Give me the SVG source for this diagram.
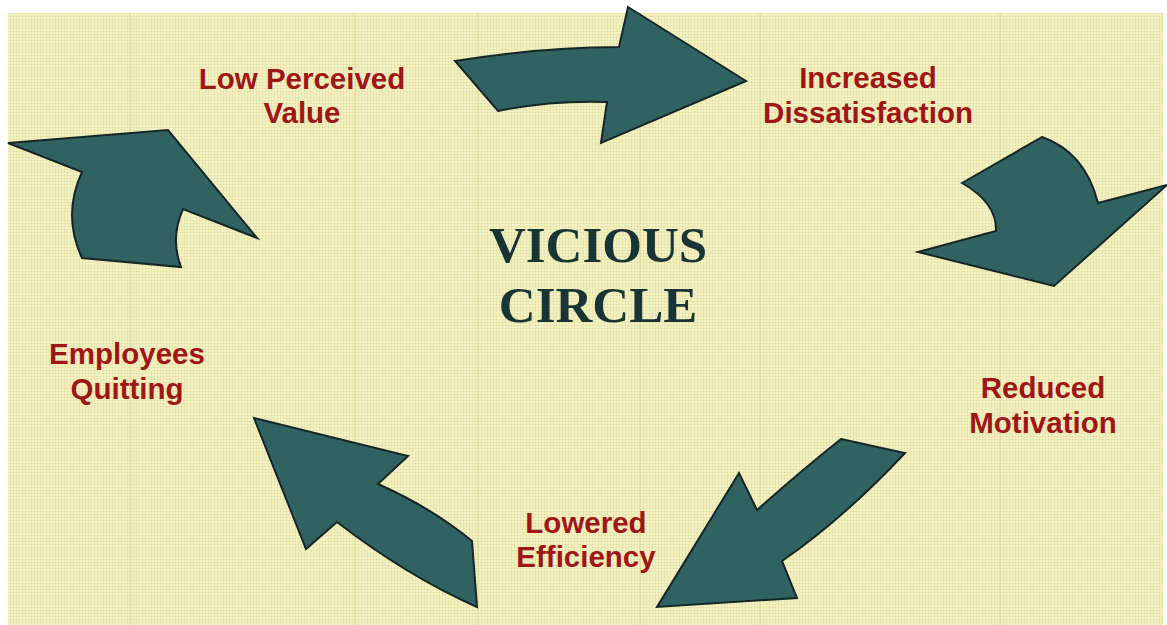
<svg xmlns="http://www.w3.org/2000/svg" width="1167" height="625" viewBox="0 0 1167 625">
<defs>
<pattern id="dots" width="3" height="3" patternUnits="userSpaceOnUse">
<rect width="3" height="3" fill="#f8f6d4"/>
<rect x="0.5" y="0.5" width="2" height="2" fill="#e2de98"/>
</pattern>
<style>
.arrow{fill:#316262;stroke:#152626;stroke-width:2;stroke-linejoin:miter}
.lbl{font-family:"Liberation Sans",Arial,sans-serif;font-weight:bold;font-size:29.5px;fill:#9e1616;text-anchor:middle}
.title{font-family:"Liberation Serif","Times New Roman",serif;font-weight:bold;font-size:51px;fill:#183434;text-anchor:middle}
.vline{stroke:#d8d488;stroke-width:2;opacity:0.35}
</style>
</defs>
<rect width="1167" height="625" fill="#ffffff"/>
<rect x="8" y="13" width="1155" height="612" fill="url(#dots)"/>
<g id="texture">
<line class="vline" x1="130" y1="13" x2="130" y2="625"/>
<line class="vline" x1="355" y1="13" x2="355" y2="625"/>
<line class="vline" x1="478" y1="13" x2="478" y2="625"/>
<line class="vline" x1="640" y1="13" x2="640" y2="625"/>
<line class="vline" x1="760" y1="13" x2="760" y2="625"/>
<line class="vline" x1="1000" y1="13" x2="1000" y2="625"/>
</g>
<g id="connectors">
<path id="arrow-top" class="arrow" d="M455,61 Q543,47 619,47 L628,7 L746,81 L601,143 L607,102 Q552,100 498,111 Z"/>
<path id="arrow-right" class="arrow" d="M962,183 L1042,137 Q1085,152 1098,203 L1167,185 L1054,286 L918,252 L996,231 Q997,203 962,183 Z"/>
<path id="arrow-bottom-right" class="arrow" d="M841,439 L905,453 Q843,519 782,561 L797,598 L657,607 L739,473 L757,510 Q802,470 841,439 Z"/>
<path id="arrow-bottom-left" class="arrow" d="M254,418 L408,456 L378,484 Q432,508 472,541 L477,607 Q407,576 337,522 L306,549 Z"/>
<path id="arrow-left" class="arrow" d="M8,143 L168,130 L257,238 L183,209 Q170,238 181,267 L82,258 Q62,215 82,172 Z"/>
</g>
<g id="title">
<text class="title" x="598" y="262">VICIOUS</text>
<text class="title" x="598" y="322">CIRCLE</text>
</g>
<g id="node-low-perceived-value">
<text class="lbl" x="302" y="89">Low Perceived</text>
<text class="lbl" x="302" y="123">Value</text>
</g>
<g id="node-increased-dissatisfaction">
<text class="lbl" x="868" y="88">Increased</text>
<text class="lbl" x="868" y="123">Dissatisfaction</text>
</g>
<g id="node-reduced-motivation">
<text class="lbl" x="1043" y="398">Reduced</text>
<text class="lbl" x="1043" y="433">Motivation</text>
</g>
<g id="node-lowered-efficiency">
<text class="lbl" x="586" y="533">Lowered</text>
<text class="lbl" x="586" y="567">Efficiency</text>
</g>
<g id="node-employees-quitting">
<text class="lbl" x="127" y="364">Employees</text>
<text class="lbl" x="127" y="399">Quitting</text>
</g>
</svg>
